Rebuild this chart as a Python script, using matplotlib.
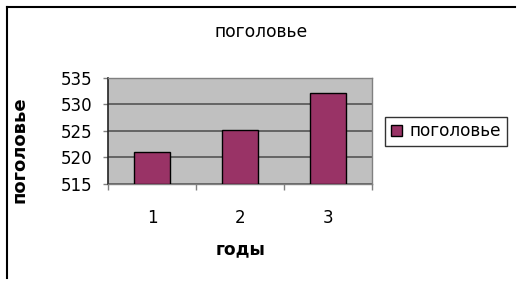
import matplotlib
matplotlib.use("Agg")
import matplotlib.pyplot as plt
from matplotlib.lines import Line2D
from matplotlib.patches import Patch

years = [1, 2, 3]
values = [521.1, 525.1, 532.1]
series_name = "поголовье"
title = "поголовье"
xlabel = "годы"
ylabel = "поголовье"
yticks = [515, 520, 525, 530, 535]

W, H = 523, 284
fig = plt.figure(figsize=(W / 100, H / 100), dpi=100)
fig.patch.set_facecolor("white")
plt.rcParams['font.family'] = ['DejaVu Sans']

def fx(px):
    return px / W

def fy(py):
    return 1 - py / H

# outer frame (top + left)
fig.add_artist(Line2D([fx(6.5), fx(515)], [fy(6.5), fy(6.5)], color="black", lw=1.5))
fig.add_artist(Line2D([fx(6.5), fx(6.5)], [fy(6.5), fy(278)], color="black", lw=1.5))

left, right, top, bottom = 108, 372, 78, 184
ax = fig.add_axes([fx(left), fy(bottom), fx(right - left), fy(top) - fy(bottom)])
ax.set_facecolor("#C0C0C0")

ax.bar(years, [v - 515 for v in values], bottom=515, width=0.4,
       color="#993366", edgecolor="black", linewidth=1.0, zorder=3)

ax.set_xlim(0.5, 3.5)
ax.set_ylim(515, 535)
ax.set_yticks(yticks)
ax.yaxis.grid(True, color="#555555", linewidth=1.2, zorder=1)
ax.set_axisbelow(True)

ax.set_xticks(years)
ax.set_xticks([0.5, 1.5, 2.5, 3.5], minor=True)
ax.tick_params(axis="x", which="major", length=0, pad=18, labelsize=12)
ax.tick_params(axis="x", which="minor", length=4.5, width=1, color="#808080", direction="out")
ax.tick_params(axis="y", length=3.6, width=1, color="#808080", pad=8.0, labelsize=12)

for s in ["top", "right", "bottom"]:
    ax.spines[s].set_color("#808080")
    ax.spines[s].set_linewidth(1.0)
ax.spines["left"].set_color("#222222")
ax.spines["left"].set_linewidth(1.2)

fig.text(fx(261), fy(32), title, ha="center", va="center", fontsize=12.3)
fig.text(fx(240.5), fy(249), xlabel, ha="center", va="center", fontsize=12.3, fontweight="bold")
fig.text(fx(19.5), fy(150), ylabel, ha="center", va="center", rotation=90,
         fontsize=13, fontweight="bold")

handle = Patch(facecolor="#993366", edgecolor="black", linewidth=1.0)
leg = fig.legend([handle], [series_name], loc="center left",
                 bbox_to_anchor=(fx(385), fy(131.5)), frameon=True, fancybox=False,
                 edgecolor="black", fontsize=12.2, handlelength=0.65, handleheight=0.65,
                 handletextpad=0.45, borderpad=0.35, borderaxespad=0)
leg.get_frame().set_linewidth(1.0)

fig.savefig("out.png", dpi=100, facecolor="white")
